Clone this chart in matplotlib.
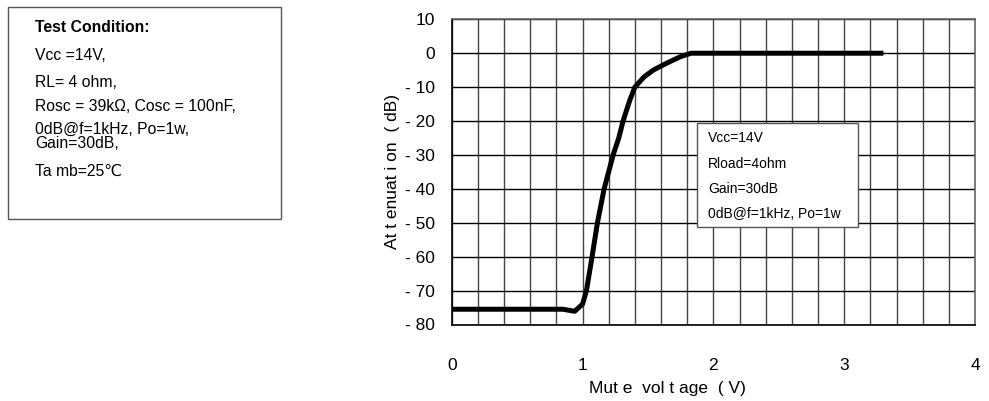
import matplotlib
matplotlib.use("Agg")
import matplotlib.pyplot as plt
import numpy as np
from matplotlib.patches import Rectangle

plt.rcParams['font.family'] = ['Liberation Sans', 'DejaVu Sans']

# Data
mute_v = [0.0, 0.85, 0.94, 1.0, 1.03, 1.073, 1.114, 1.165, 1.234, 1.277, 1.31,
          1.36, 1.40, 1.47, 1.54, 1.64, 1.75, 1.83, 3.30]
atten_db = [-75.5, -75.5, -76.1, -74.0, -70.0, -60.0, -50.0, -40.0, -30.0, -25.0,
            -20.0, -14.0, -10.0, -7.0, -5.0, -3.0, -1.0, 0.0, 0.0]

x_ticks = [0, 1, 2, 3, 4]
x_ticklabels = ["0", "1", "2", "3", "4"]
y_ticks = [-80, -70, -60, -50, -40, -30, -20, -10, 0, 10]
y_ticklabels = ["- 80", "- 70", "- 60", "- 50", "- 40", "- 30", "- 20", "- 10", "0", "10"]

inner_lines = ["Vcc=14V", "Rload=4ohm", "Gain=30dB", "0dB@f=1kHz, Po=1w"]
cond_title = "Test Condition:"
cond_lines = ["Vcc =14V,", "RL= 4 ohm,", "Rosc = 39k\u03a9, Cosc = 100nF,",
              "0dB@f=1kHz, Po=1w,\nGain=30dB,", "Ta mb=25\u2103"]

W, H = 989, 401
fig = plt.figure(figsize=(W / 100, H / 100), dpi=100)
L, R, T, B = 451.7, 975.0, 19.3, 324.5
ax = fig.add_axes([L / W, 1 - B / H, (R - L) / W, (B - T) / H])

ax.set_xlim(0, 4)
ax.set_ylim(-80, 10)
ax.set_xticks(x_ticks)
ax.set_xticklabels(x_ticklabels)
ax.set_xticks(np.arange(0, 4.001, 0.2), minor=True)
ax.set_yticks(y_ticks)
ax.set_yticklabels(y_ticklabels)
ax.tick_params(axis='both', which='both', length=0, labelsize=12.5)
ax.tick_params(axis='y', pad=12)
ax.tick_params(axis='x', pad=24)

ax.grid(True, axis='x', which='both', color='#444444', lw=1.0)
ax.grid(True, axis='y', which='major', color='black', lw=1.0)
ax.set_axisbelow(True)
for s in ['top', 'right']:
    ax.spines[s].set_color('#666666')
for s in ['left', 'bottom']:
    ax.spines[s].set_color('black')
for s in ax.spines.values():
    s.set_linewidth(1.2)

ax.plot(mute_v, atten_db, color='black', lw=3.6, solid_joinstyle='round',
        solid_capstyle='butt', zorder=3)

fig.text(667 / W, 1 - 388 / H, "Mut e  vol t age  ( V)", ha='center', va='center', fontsize=12.5)
fig.text(392 / W, 1 - 172 / H, "At t enuat i on  ( dB)", ha='center', va='center',
         rotation=90, fontsize=12.5)

# Inner legend box
bx0, by0, bx1, by1 = 697.3, 123.3, 857.7, 226.7
fig.patches.append(Rectangle((bx0 / W, 1 - by1 / H), (bx1 - bx0) / W, (by1 - by0) / H,
                             transform=fig.transFigure, facecolor='white',
                             edgecolor='#555555', lw=1.0, zorder=5))
inner_y = [138.3, 164.0, 189.0, 214.0]
for y, t in zip(inner_y, inner_lines):
    fig.text(708.3 / W, 1 - y / H, t, ha='left', va='center',
             fontsize=10, zorder=6)

# Left test condition box
fig.patches.append(Rectangle((8.3 / W, 1 - 219 / H), (281 - 8.3) / W, (219 - 7.3) / H,
                             transform=fig.transFigure, facecolor='white',
                             edgecolor='#555555', lw=1.0, zorder=5))
fig.text(35 / W, 1 - 27.5 / H, cond_title, ha='left', va='center', fontsize=11.3,
         fontweight='bold', zorder=6)
ys = [55, 82.7, 107, 136.3, 171.7]
for y, t in zip(ys, cond_lines):
    fig.text(35 / W, 1 - y / H, t, ha='left', va='center', fontsize=11.3,
             linespacing=0.98, zorder=6)

fig.savefig("out.png", dpi=100)
